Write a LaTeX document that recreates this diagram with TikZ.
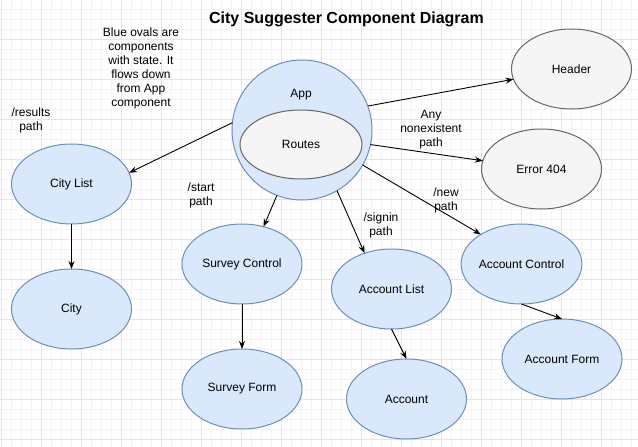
\documentclass[tikz,border=0pt]{standalone}
\usepackage{fontspec}
\setmainfont{Liberation Sans}
\usetikzlibrary{shapes.geometric,arrows.meta}
\definecolor{compfill}{HTML}{DAE8FC}
\definecolor{compline}{HTML}{6C8EBF}
\definecolor{plainfill}{HTML}{F5F5F5}
\definecolor{plainline}{HTML}{666666}
\definecolor{minorgrid}{HTML}{F4F4F4}
\definecolor{majorgrid}{HTML}{E4E4E4}

\begin{document}
\begin{tikzpicture}[x=1pt,y=-1pt,
	font=\fontsize{12}{14}\selectfont,
	comp/.style={ellipse,draw=compline,fill=compfill,line width=1pt,
		minimum width=120pt,minimum height=80pt,inner sep=0pt,outer sep=0pt},
	plain/.style={comp,draw=plainline,fill=plainfill},
	flow/.style={-{Stealth[length=8pt,width=6pt]},line width=0.9pt},
	tag/.style={align=center,inner sep=0pt}]
	\useasboundingbox (0,0) rectangle (638,447);
	\fill[white] (0,0) rectangle (638,447);
	% grid
	\foreach \x in {1.5,11.5,...,638} \draw[minorgrid,line width=0.8pt] (\x,0) -- (\x,447);
	\foreach \y in {9.3,19.3,...,447} \draw[minorgrid,line width=0.8pt] (0,\y) -- (638,\y);
	\foreach \x in {1.5,41.5,...,638} \draw[majorgrid,line width=1pt] (\x,0) -- (\x,447);
	\foreach \y in {39.3,79.3,...,447} \draw[majorgrid,line width=1pt] (0,\y) -- (638,\y);

	\node [tag,font=\bfseries\fontsize{16}{18}\selectfont] (title) at (346.5,19) {City Suggester Component Diagram};
	\node [tag] (note) at (141,68) {Blue ovals are\\components\\with state. It\\flows down\\from App\\component};

	% components
	\node [comp,minimum width=140pt,minimum height=140pt] (app) at (302,130) {};
	\node [tag] (applabel) at (301,95) {App};
	\node [plain,minimum width=122pt,minimum height=69pt] (routes) at (301,144.5) {Routes};
	\node [plain] (header) at (571.5,69) {Header};
	\node [plain] (error) at (541.5,169) {Error 404};
	\node [comp] (citylist) at (71.5,184) {City List};
	\node [comp] (city) at (71.5,309) {City};
	\node [comp] (surveyctrl) at (242,264) {Survey Control};
	\node [comp] (surveyform) at (242,389) {Survey Form};
	\node [comp] (accountlist) at (391.5,289) {Account List};
	\node [comp] (account) at (406.5,399) {Account};
	\node [comp] (accountctrl) at (521.5,264) {Account Control};
	\node [comp] (accountform) at (562,359) {Account Form};

	% connectors
	\draw [flow] (app.20) -- (header.190);
	\draw [flow] (app.-12) -- (error.172);
	\draw [flow] (app.174) -- (citylist.11);
	\draw [flow] (app.249.5) -- (surveyctrl.60);
	\draw [flow] (app.300) -- (accountlist.127);
	\draw [flow] (app.-30.5) -- (accountctrl.144);
	\draw [flow] (citylist.south) -- (city.north);
	\draw [flow] (surveyctrl.south) -- (surveyform.north);
	\draw [flow] (accountlist.south) -- (account.north);
	\draw [flow] (accountctrl.south) -- (accountform.north);

	% path labels
	\node [tag] (resultstag) at (31,120) {/results\\path};
	\node [tag] (missingtag) at (431,130) {Any\\nonexistent\\path};
	\node [tag] (starttag) at (201,195) {/start\\path};
	\node [tag] (signintag) at (381,225) {/signin\\path};
	\node [tag] (newtag) at (446,200) {/new\\path};
\end{tikzpicture}
\end{document}
